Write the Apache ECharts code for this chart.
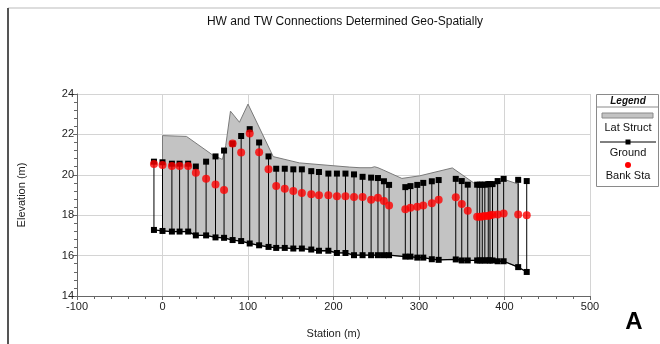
<!DOCTYPE html>
<html>
<head>
<meta charset="utf-8">
<script src="https://cdn.jsdelivr.net/npm/echarts@6/dist/echarts.min.js"></script>
<style>html,body{margin:0;padding:0;background:#fff}#c{width:660px;height:344px}</style>
</head>
<body>
<div id="c"></div>
<script>
// Station (m) of each cross-section
var stations = [-10, 0, 11, 20, 30, 39, 51, 62, 72, 82, 92, 102, 113, 124, 133, 143, 153, 163, 174, 183, 194, 204, 214, 224, 234, 244, 252, 259, 265, 284, 290, 298, 305, 315, 323, 343, 350, 357, 368, 371, 374, 377, 381, 383, 386, 392, 399, 416, 426];
// Ground top elevation (m)
var groundTop = [20.65, 20.62, 20.55, 20.55, 20.55, 20.41, 20.65, 20.91, 21.2, 21.54, 21.92, 22.26, 21.6, 20.91, 20.3, 20.3, 20.27, 20.27, 20.18, 20.14, 20.06, 20.06, 20.06, 20.02, 19.9, 19.86, 19.84, 19.68, 19.5, 19.39, 19.44, 19.5, 19.6, 19.68, 19.74, 19.8, 19.69, 19.51, 19.51, 19.51, 19.51, 19.51, 19.54, 19.54, 19.54, 19.69, 19.8, 19.75, 19.69];
// Ground bottom elevation (m)
var groundBottom = [17.27, 17.22, 17.19, 17.19, 17.19, 17.0, 17.0, 16.9, 16.88, 16.77, 16.72, 16.6, 16.51, 16.43, 16.38, 16.38, 16.35, 16.35, 16.3, 16.24, 16.24, 16.13, 16.13, 16.02, 16.02, 16.02, 16.02, 16.02, 16.02, 15.95, 15.95, 15.9, 15.9, 15.82, 15.79, 15.81, 15.76, 15.76, 15.76, 15.76, 15.76, 15.76, 15.76, 15.76, 15.76, 15.72, 15.72, 15.43, 15.19];
// Bank station elevation (m)
var bankSta = [20.54, 20.49, 20.44, 20.44, 20.44, 20.1, 19.81, 19.52, 19.25, 21.55, 21.1, 22.05, 21.12, 20.27, 19.44, 19.31, 19.2, 19.1, 19.04, 18.99, 18.99, 18.94, 18.94, 18.9, 18.9, 18.77, 18.86, 18.7, 18.48, 18.3, 18.37, 18.42, 18.48, 18.59, 18.77, 18.89, 18.56, 18.22, 17.92, 17.92, 17.94, 17.96, 17.96, 18.0, 18.02, 18.04, 18.09, 18.04, 18.0];
// Lateral structure top profile
var latTopX = [0, 28, 59, 70, 74, 79.5, 90, 100, 129.5, 160, 219, 231, 244, 248, 252, 258, 280, 301, 339, 367, 390, 399, 416];
var latTopY = [21.94, 21.9, 20.97, 20.76, 21.46, 23.15, 22.6, 23.5, 20.9, 20.59, 20.38, 20.35, 20.35, 20.4, 20.35, 20.24, 19.82, 19.95, 20.34, 19.51, 19.5, 19.78, 19.54];
// Lateral structure extent (station range)
var latStart = 0, latEnd = 416;
// Axis ticks
var xTicks = [-100, 0, 100, 200, 300, 400, 500];
var yTicks = [14, 16, 18, 20, 22, 24];

var FONT = 'Liberation Sans, Arial, sans-serif';

var groundData = [];
var bottomData = [];
var bankData = [];
for (var i = 0; i < stations.length; i++) {
  groundData.push([stations[i], groundBottom[i]]);
  groundData.push([stations[i], groundTop[i]]);
  groundData.push([stations[i], '-']);
  bottomData.push([stations[i], groundBottom[i]]);
  bankData.push([stations[i], bankSta[i]]);
}
var latPoly = [];
for (var j = 0; j < latTopX.length; j++) latPoly.push([latTopX[j], latTopY[j]]);
for (var k = stations.length - 1; k >= 0; k--) {
  if (stations[k] >= latStart && stations[k] <= latEnd) latPoly.push([stations[k], groundBottom[k]]);
}

var chart = echarts.init(document.getElementById('c'), null, {renderer: 'canvas'});
var option = {
  animation: false,
  backgroundColor: '#ffffff',
  title: {
    text: 'HW and TW Connections Determined Geo-Spatially',
    left: 340, top: 11, textAlign: 'center',
    textStyle: {fontFamily: FONT, fontSize: 12, fontWeight: 'normal', color: '#111'}
  },
  grid: {left: 77, right: 70, top: 94, bottom: 43, containLabel: false},
  xAxis: {
    type: 'value', min: xTicks[0], max: xTicks[xTicks.length - 1], interval: 100,
    name: 'Station (m)', nameLocation: 'middle', nameGap: 32,
    nameTextStyle: {fontFamily: FONT, fontSize: 11, color: '#222'},
    axisLine: {show: true, onZero: false, lineStyle: {color: '#666', width: 1}},
    axisTick: {show: true, length: 4, lineStyle: {color: '#666'}},
    minorTick: {show: true, splitNumber: 5, length: 3, lineStyle: {color: '#666'}},
    axisLabel: {fontFamily: FONT, fontSize: 11, color: '#222', margin: 5},
    splitLine: {show: true, lineStyle: {color: '#d4d4d4', width: 1}}
  },
  yAxis: {
    type: 'value', min: yTicks[0], max: yTicks[yTicks.length - 1], interval: 2,
    name: 'Elevation (m)', nameLocation: 'middle', nameGap: 50, nameRotate: 90,
    nameTextStyle: {fontFamily: FONT, fontSize: 11, color: '#222'},
    axisLine: {show: true, onZero: false, lineStyle: {color: '#666', width: 1}},
    axisTick: {show: true, length: 4, lineStyle: {color: '#666'}},
    minorTick: {show: true, splitNumber: 5, length: 3, lineStyle: {color: '#666'}},
    axisLabel: {fontFamily: FONT, fontSize: 11, color: '#222', margin: 3},
    splitLine: {show: true, lineStyle: {color: '#d4d4d4', width: 1}}
  },
  series: [
    {
      name: 'Lat Struct', type: 'custom', z: 1,
      data: [[latStart, latTopY[0]]],
      renderItem: function (params, api) {
        var pts = latPoly.map(function (p) { return api.coord(p); });
        return {
          type: 'polygon',
          shape: {points: pts},
          style: {fill: '#c3c3c3', stroke: '#7a7a7a', lineWidth: 1}
        };
      }
    },
    {
      name: 'GroundBottom', type: 'line', z: 2, data: bottomData,
      symbol: 'none', lineStyle: {color: '#000', width: 1.3}, silent: true
    },
    {
      name: 'Ground', type: 'line', z: 3, data: groundData, connectNulls: false,
      symbol: 'rect', symbolSize: 6, showSymbol: true, showAllSymbol: true,
      itemStyle: {color: '#000'}, lineStyle: {color: '#000', width: 1}
    },
    {
      name: 'Bank Sta', type: 'scatter', z: 4, data: bankData,
      symbol: 'circle', symbolSize: 8, itemStyle: {color: '#ff0000'}
    }
  ],
  graphic: [
    {type: 'line', shape: {x1: 8, y1: 8, x2: 660, y2: 8}, style: {stroke: '#bbbbbb', lineWidth: 1}},
    {type: 'line', shape: {x1: 8, y1: 8, x2: 8, y2: 344}, style: {stroke: '#555555', lineWidth: 2}},
    {type: 'rect', shape: {x: 596.5, y: 94.5, width: 62, height: 92}, style: {fill: '#fff', stroke: '#8a8a8a', lineWidth: 1}},
    {type: 'text', x: 628, y: 101, style: {text: 'Legend', fontFamily: FONT, fontSize: 10, fontWeight: 'bold', fontStyle: 'italic', fill: '#111', textAlign: 'center', textVerticalAlign: 'middle'}},
    {type: 'line', shape: {x1: 596.5, y1: 107, x2: 658.5, y2: 107}, style: {stroke: '#8a8a8a', lineWidth: 1}},
    {type: 'rect', shape: {x: 602, y: 113, width: 51, height: 5}, style: {fill: '#c3c3c3', stroke: '#8a8a8a', lineWidth: 1}},
    {type: 'text', x: 628, y: 128, style: {text: 'Lat Struct', fontFamily: FONT, fontSize: 11, fill: '#111', textAlign: 'center', textVerticalAlign: 'middle'}},
    {type: 'line', shape: {x1: 600, y1: 142, x2: 656, y2: 142}, style: {stroke: '#000', lineWidth: 1}},
    {type: 'rect', shape: {x: 625.5, y: 139.5, width: 5, height: 5}, style: {fill: '#000'}},
    {type: 'text', x: 628, y: 153, style: {text: 'Ground', fontFamily: FONT, fontSize: 11, fill: '#111', textAlign: 'center', textVerticalAlign: 'middle'}},
    {type: 'circle', shape: {cx: 628, cy: 165, r: 3}, style: {fill: '#ff0000'}},
    {type: 'text', x: 628, y: 176, style: {text: 'Bank Sta', fontFamily: FONT, fontSize: 11, fill: '#111', textAlign: 'center', textVerticalAlign: 'middle'}},
    {type: 'text', x: 634, y: 322, style: {text: 'A', fontFamily: FONT, fontSize: 24, fontWeight: 'bold', fill: '#000', textAlign: 'center', textVerticalAlign: 'middle'}}
  ]
};
chart.setOption(option);
</script>
</body>
</html>
